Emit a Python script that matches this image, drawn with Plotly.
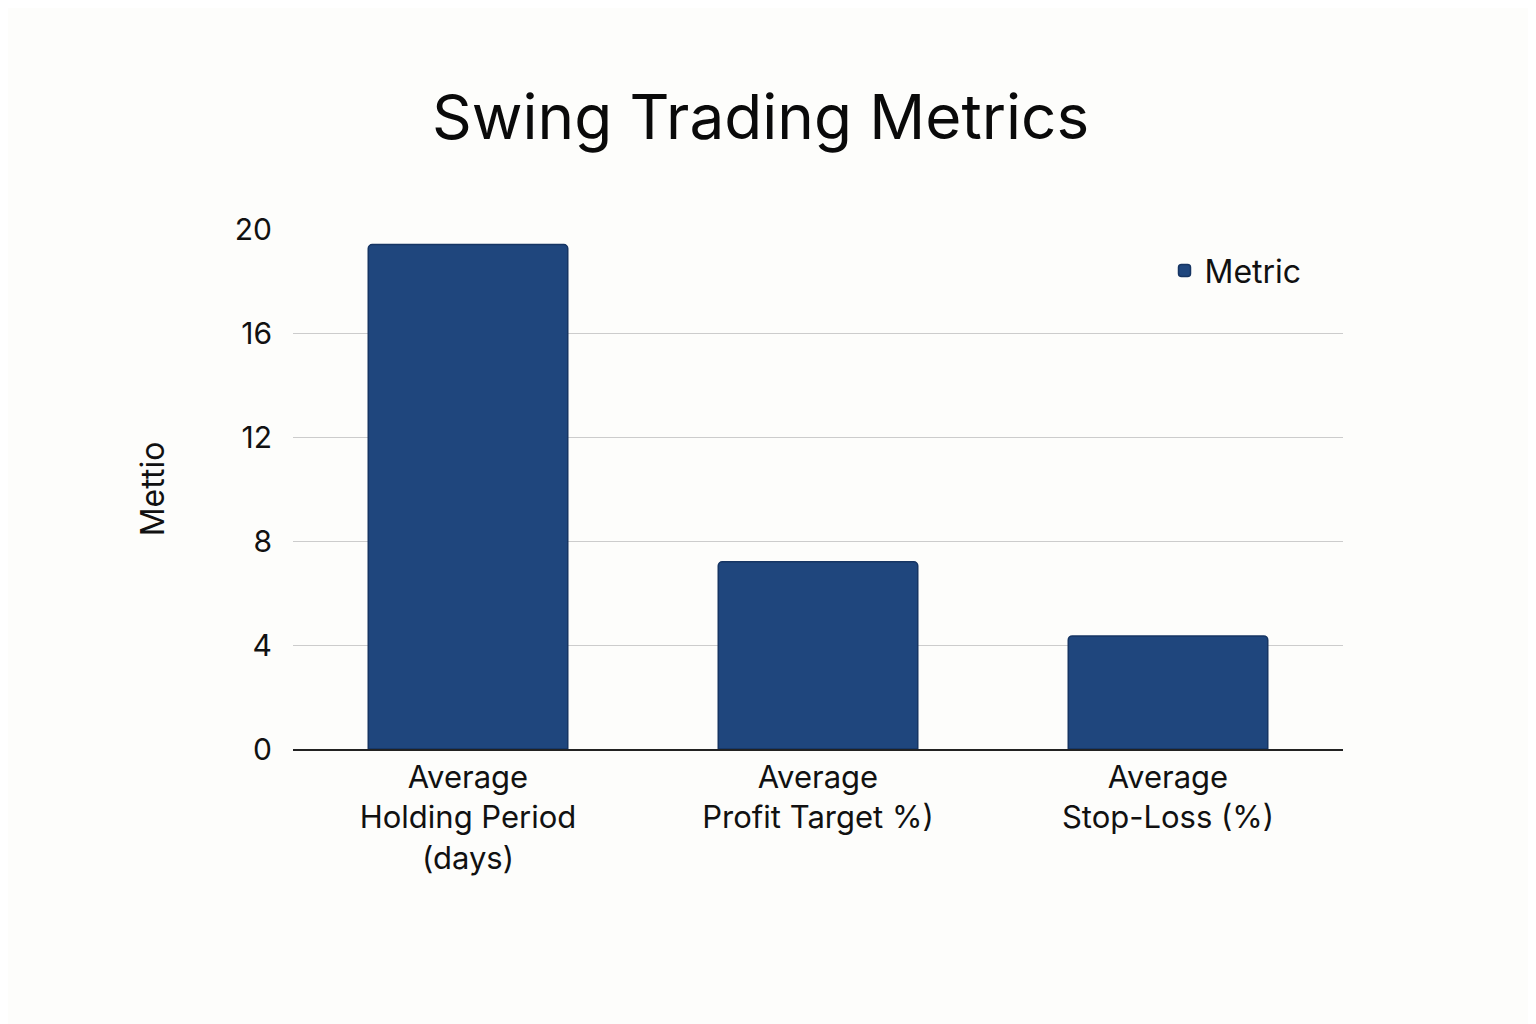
import plotly.graph_objects as go

categories = ["Average<br>Holding Period<br>(days)", "Average<br>Profit Target %)", "Average<br>Stop-Loss (%)"]
values = [19.4, 7.2, 4.35]
tick_vals = [0, 4, 8, 12, 16, 20]

fig = go.Figure(go.Bar(
    x=categories, y=values, name="Metric",
    marker=dict(color="#1f467d", line=dict(color="#163563", width=1.5), cornerradius=4),
    showlegend=True,
))
fig.update_layout(
    width=1536, height=1024,
    paper_bgcolor="#fdfdfb", plot_bgcolor="#fdfdfb",
    font=dict(family="Inter, Roboto, sans-serif", color="#111", size=30),
    title=dict(text="Swing Trading Metrics", x=0.49, xanchor="center", y=0.893, yanchor="middle",
               font=dict(size=62, color="#0a0a0a")),
    margin=dict(l=285, r=201, t=221, b=283),
    bargap=0.43,
    legend=dict(x=0.83, y=0.92, xanchor="left", yanchor="middle", bgcolor="rgba(0,0,0,0)",
                font=dict(size=32)),
    xaxis=dict(showline=True, linecolor="#222", linewidth=1.5, ticks="", tickfont=dict(size=31)),
    yaxis=dict(range=[0, 20], tickvals=tick_vals, gridcolor="#cccccc", gridwidth=1,
               zeroline=False, ticks="", ticklabelstandoff=20,
               title=dict(text="Mettio", font=dict(size=32), standoff=60), tickfont=dict(size=30)),
)
fig.write_html("out.html")
